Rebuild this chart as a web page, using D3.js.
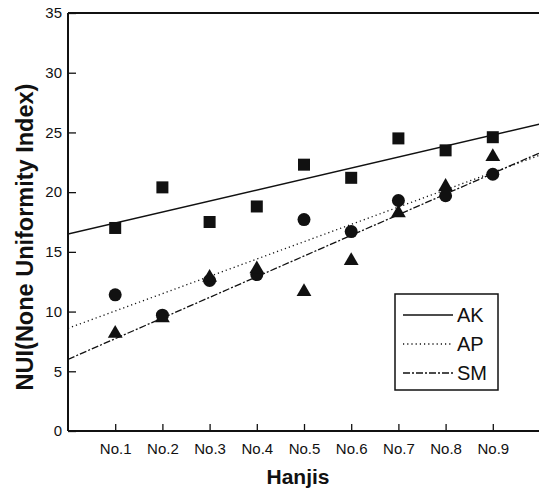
<!DOCTYPE html>
<html>
<head>
<meta charset="utf-8">
<script src="https://cdn.jsdelivr.net/npm/d3@7"></script>
<style>
  html, body { margin: 0; padding: 0; background: #fff; }
  svg { display: block; font-family: "Liberation Sans", Arial, sans-serif; }
</style>
</head>
<body>
<script>
var categories = ["No.1", "No.2", "No.3", "No.4", "No.5", "No.6", "No.7", "No.8", "No.9"];
var yTicks = [0, 5, 10, 15, 20, 25, 30, 35];

// measured points
var akValues = [17.0, 20.4, 17.5, 18.8, 22.3, 21.2, 24.5, 23.5, 24.6];
var apValues = [11.4, 9.7, 12.6, 13.1, 17.7, 16.7, 19.3, 19.7, 21.5];
var smValues = [8.2, 9.5, 12.9, 13.6, 11.7, 14.3, 18.3, 20.5, 23.0];

// fitted lines, value at x = 0 and x = 10
var fitX = [0, 10];
var akFit = [16.5, 25.7];
var apFit = [8.6, 23.1];
var smFit = [6.0, 23.3];

var legendNames = ["AK", "AP", "SM"];

var W = 539, H = 491;
var svg = d3.select("body").append("svg")
    .attr("width", W)
    .attr("height", H);

var x = d3.scaleLinear().domain([0, 10]).range([68, 540]);
var y = d3.scaleLinear().domain([0, 35]).range([431, 13]);

var ink = "#111";

// frame: left, bottom, top
var frame = svg.append("g").attr("stroke", ink).attr("stroke-width", 2).attr("fill", "none");
frame.append("line").attr("x1", x(0)).attr("x2", x(0)).attr("y1", y(35)).attr("y2", y(0));
frame.append("line").attr("x1", x(0)).attr("x2", W).attr("y1", y(0)).attr("y2", y(0));
frame.append("line").attr("x1", x(0)).attr("x2", W).attr("y1", y(35)).attr("y2", y(35));

// y axis ticks & labels
var yAxis = d3.axisLeft(y).tickValues(yTicks).tickSize(-8).tickPadding(6);
var gy = svg.append("g").attr("transform", "translate(" + x(0) + ",0)").call(yAxis);
gy.select(".domain").remove();
gy.selectAll(".tick line").attr("stroke", ink).attr("stroke-width", 1.3);
gy.selectAll(".tick text")
    .attr("fill", ink)
    .style("font-size", "15px")
    .style("font-family", "Liberation Sans, Arial, sans-serif");

// x axis ticks & labels
var xAxis = d3.axisBottom(x)
    .tickValues(d3.range(1, categories.length + 1))
    .tickFormat(function (d) { return categories[d - 1]; })
    .tickSize(-7).tickPadding(9);
var gx = svg.append("g").attr("transform", "translate(0," + y(0) + ")").call(xAxis);
gx.select(".domain").remove();
gx.selectAll(".tick line").attr("stroke", ink).attr("stroke-width", 1.3);
gx.selectAll(".tick text")
    .attr("fill", ink)
    .attr("dy", "0.95em")
    .style("font-size", "15px")
    .style("font-family", "Liberation Sans, Arial, sans-serif");

// axis titles
svg.append("text")
    .attr("x", 298).attr("y", 484)
    .attr("text-anchor", "middle")
    .attr("font-weight", "bold")
    .attr("font-size", 21)
    .attr("fill", ink)
    .text("Hanjis");

svg.append("text")
    .attr("transform", "translate(33,237) rotate(-90)")
    .attr("text-anchor", "middle")
    .attr("font-weight", "bold")
    .attr("font-size", 23.5)
    .attr("fill", ink)
    .text("NUI(None Uniformity Index)");

// fit lines
var lineGen = d3.line()
    .x(function (d) { return x(d[0]); })
    .y(function (d) { return y(d[1]); });

var fits = [
  { vals: akFit, dash: null },
  { vals: apFit, dash: "1.2,3" },
  { vals: smFit, dash: "7,2,2,2" }
];

var plot = svg.append("g");
plot.append("clipPath").attr("id", "clip")
  .append("rect").attr("x", x(0)).attr("y", y(35)).attr("width", W - x(0)).attr("height", y(0) - y(35));

var linesG = plot.append("g").attr("clip-path", "url(#clip)");
fits.forEach(function (f) {
  linesG.append("path")
      .datum(fitX.map(function (xv, i) { return [xv, f.vals[i]]; }))
      .attr("d", lineGen)
      .attr("fill", "none")
      .attr("stroke", ink)
      .attr("stroke-width", f.dash ? 1.3 : 1.5)
      .attr("stroke-dasharray", f.dash);
});

// markers
var pts = function (vals) { return vals.map(function (v, i) { return [i + 1, v]; }); };

plot.selectAll(".sq").data(pts(akValues)).enter().append("rect")
    .attr("x", function (d) { return x(d[0]) - 6; })
    .attr("y", function (d) { return y(d[1]) - 6; })
    .attr("width", 12).attr("height", 12)
    .attr("fill", ink);

plot.selectAll(".ci").data(pts(apValues)).enter().append("circle")
    .attr("cx", function (d) { return x(d[0]); })
    .attr("cy", function (d) { return y(d[1]); })
    .attr("r", 6.5)
    .attr("fill", ink);

var tri = d3.symbol().type(d3.symbolTriangle).size(95);
plot.selectAll(".tr").data(pts(smValues)).enter().append("path")
    .attr("d", tri)
    .attr("transform", function (d) { return "translate(" + x(d[0]) + "," + (y(d[1]) + 0.5) + ")"; })
    .attr("fill", ink);

// legend
var lg = svg.append("g").attr("transform", "translate(395,294)");
lg.append("rect")
    .attr("width", 103).attr("height", 96)
    .attr("fill", "#fff").attr("stroke", ink).attr("stroke-width", 1.5);
legendNames.forEach(function (name, i) {
  var cy = 21 + i * 29;
  lg.append("line")
      .attr("x1", 8).attr("x2", 58)
      .attr("y1", cy).attr("y2", cy)
      .attr("stroke", ink)
      .attr("stroke-width", 1.3)
      .attr("stroke-dasharray", fits[i].dash);
  lg.append("text")
      .attr("x", 62).attr("y", cy + 7)
      .attr("font-size", 20)
      .attr("fill", ink)
      .text(name);
});
</script>
</body>
</html>
